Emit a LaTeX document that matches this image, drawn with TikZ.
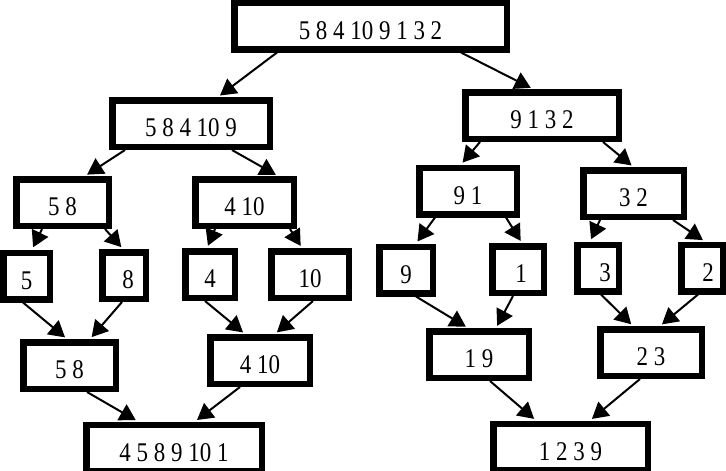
\documentclass[tikz,border=0pt]{standalone}
\usepackage{fontspec}
\setmainfont{Liberation Serif}
\newfontfamily\nodefont[FakeStretch=0.85]{Liberation Serif}
\usepackage{tikz}
\usetikzlibrary{arrows.meta}

\begin{document}
\begin{tikzpicture}[
  x=1pt, y=-1pt,
  font=\nodefont\fontsize{27}{32}\selectfont, >={Triangle[length=16pt,width=18pt]},
  box/.style={draw,line width=6.5pt,minimum height=46.5pt,inner sep=0pt,text height=26pt,text depth=0pt},
  link/.style={->,line width=2pt,shorten >=2.5pt}
]
\useasboundingbox (0,0) rectangle (726,471);
% splitting
\node[box,minimum width=272.5pt] (all) at (370.5,26) {5 8 4 10 9 1 3 2};
\node[box,minimum width=157.5pt] (lh) at (191,123.5) {5 8 4 10 9};
\node[box,minimum width=153.5pt] (rh) at (542,115.5) {9 1 3 2};
\node[box,minimum width=92.5pt] (lq1) at (62.5,202.5) {5 8};
\node[box,minimum width=98.5pt] (lq2) at (244.5,202.5) {4 10};
\node[box,minimum width=97.5pt] (rq1) at (468,191) {9 1};
\node[box,minimum width=100.5pt] (rq2) at (633.5,193.5) {3 2};
% single elements
\node[box,minimum width=46.5pt] (e5) at (26.5,276) {5};
\node[box,minimum width=43.5pt] (e8) at (124,275.5) {\hspace{8pt}8};
\node[box,minimum width=49.5pt] (e4) at (210,274.5) {4};
\node[box,minimum width=77.5pt] (e10) at (310,274.5) {10};
\node[box,minimum width=53.5pt] (e9) at (406,270) {9};
\node[box,minimum width=51.5pt] (e1) at (518,269.5) {\hspace{6pt}1};
\node[box,minimum width=41.5pt] (e3) at (598,268) {\hspace{14pt}3};
\node[box,minimum width=41.5pt] (e2) at (702,268) {\hspace{12pt}2};
% merging
\node[box,minimum width=92.5pt] (m58) at (69.5,365.5) {5 8};
\node[box,minimum width=99.5pt] (m410) at (260,360.5) {4 10};
\node[box,minimum width=99.5pt] (m19) at (479,354.5) {1 9};
\node[box,minimum width=101.5pt] (m23) at (651,352.5) {2 3};
\node[box,minimum width=175.5pt] (fl) at (174,448) {4 5 8 9 10 1};
\node[box,minimum width=154.5pt] (fr) at (570.5,447) {1 2 3 9};

\draw[link] ([xshift=-93.5pt]all.south) -- ([xshift=27pt]lh.north);
\draw[link] ([xshift=90.5pt]all.south) -- ([xshift=-9pt]rh.north);
\draw[link] ([xshift=-66pt]lh.south) -- ([xshift=22.5pt]lq1.north);
\draw[link] ([xshift=41pt]lh.south) -- ([xshift=33.5pt]lq2.north);
\draw[link] ([xshift=-62pt]rh.south) -- ([xshift=-7pt]rq1.north);
\draw[link] ([xshift=61pt]rh.south) -- (rq2.north);
\draw[link] ([xshift=-20.5pt]lq1.south) -- ([xshift=5.5pt]e5.north);
\draw[link] ([xshift=42.5pt]lq1.south) -- ([xshift=-1pt]e8.north);
\draw[link] ([xshift=-29.5pt]lq2.south) -- ([xshift=-3pt]e4.north);
\draw[link] ([xshift=45.5pt]lq2.south) -- ([xshift=-8pt]e10.north);
\draw[link] ([xshift=-33pt]rq1.south) -- ([xshift=10pt]e9.north);
\draw[link] ([xshift=38pt]rq1.south) -- ([xshift=4pt]e1.north);
\draw[link] ([xshift=-33.5pt]rq2.south) -- ([xshift=-8pt]e3.north);
\draw[link] ([xshift=39.5pt]rq2.south) -- ([xshift=3pt]e2.north);
\draw[link] ([xshift=-3.5pt]e5.south) -- ([xshift=-2.5pt]m58.north);
\draw[link] ([xshift=-2pt]e8.south) -- ([xshift=20.5pt]m58.north);
\draw[link] ([xshift=-5pt]e4.south) -- ([xshift=-15pt]m410.north);
\draw[link] ([xshift=3pt]e10.south) -- ([xshift=15pt]m410.north);
\draw[link] ([xshift=10pt]e9.south) -- ([xshift=-11pt]m19.north);
\draw[link] ([xshift=-5pt]e1.south) -- ([xshift=17pt]m19.north);
\draw[link] ([xshift=3pt]e3.south) -- ([xshift=-18pt]m23.north);
\draw[link] ([xshift=-4pt]e2.south) -- ([xshift=9pt]m23.north);
\draw[link] ([xshift=17.5pt]m58.south) -- ([xshift=-36pt]fl.north);
\draw[link] ([xshift=-20pt]m410.south) -- ([xshift=21pt]fl.north);
\draw[link] ([xshift=11pt]m19.south) -- ([xshift=-34.5pt]fr.north);
\draw[link] ([xshift=-11pt]m23.south) -- ([xshift=19.5pt]fr.north);
\end{tikzpicture}
\end{document}
